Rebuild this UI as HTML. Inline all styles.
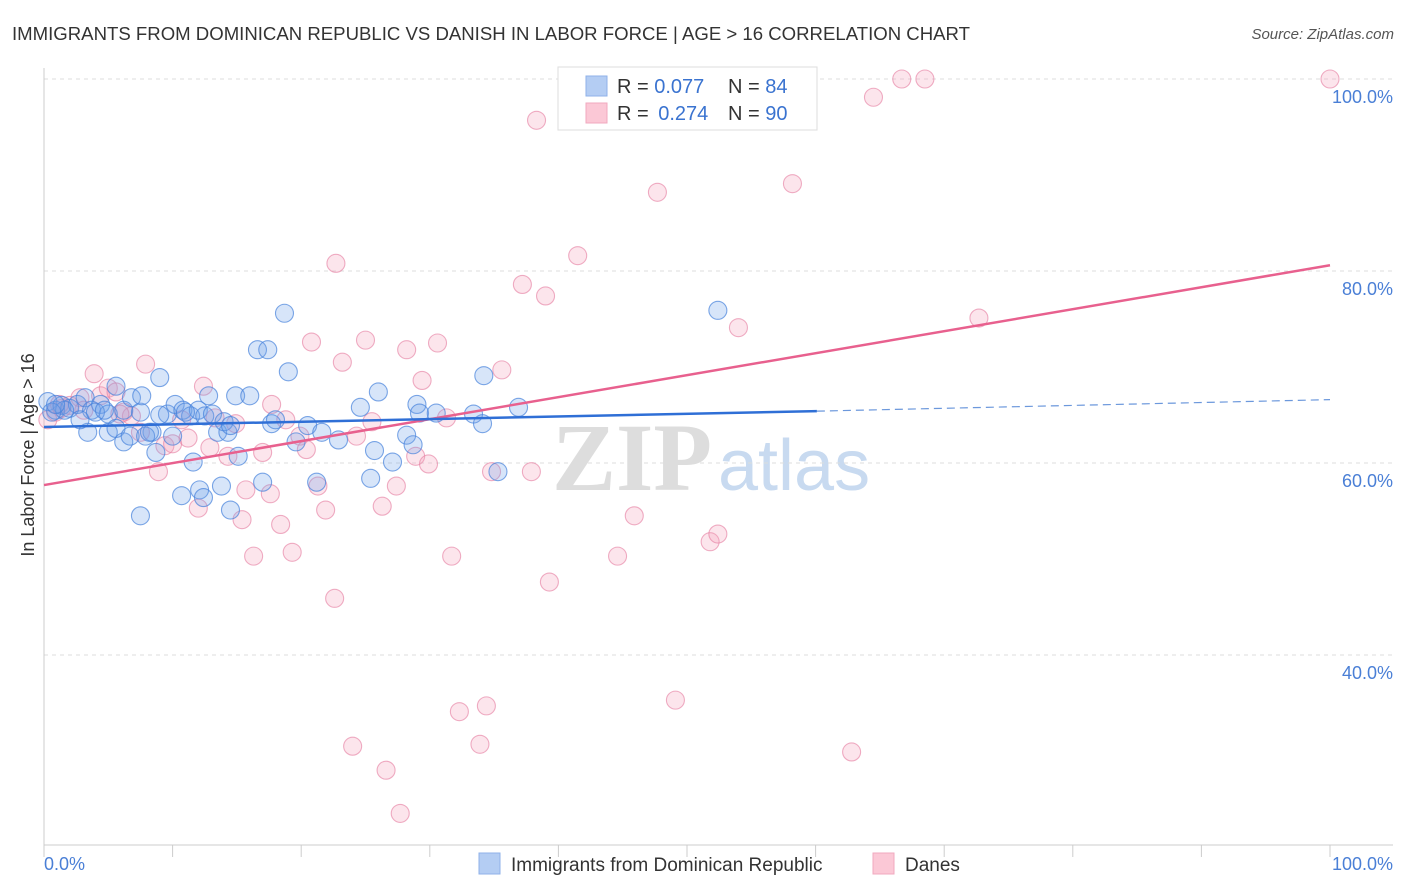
<!DOCTYPE html>
<html><head><meta charset="utf-8"><style>
body{margin:0;background:#fff;font-family:"Liberation Sans",sans-serif;}
svg{display:block}
</style></head><body>
<svg id="chart" width="1406" height="892" xmlns="http://www.w3.org/2000/svg">
<text x="12" y="40" font-size="18" fill="#333" textLength="958" lengthAdjust="spacingAndGlyphs">IMMIGRANTS FROM DOMINICAN REPUBLIC VS DANISH IN LABOR FORCE | AGE &gt; 16 CORRELATION CHART</text>
<text x="1394" y="39" font-size="15" fill="#555" text-anchor="end" font-style="italic">Source: ZipAtlas.com</text>
<g>
<text x="552" y="490" font-size="96" font-family="Liberation Serif,serif" fill="#ddd" font-weight="bold">ZIP</text>
<text x="718" y="490" font-size="72" fill="#c8daf0">atlas</text>
</g>
<g id="grid"></g>
<g id="axes"></g>
<g id="marks"></g>
<g id="lines"></g>
<text transform="translate(34,455) rotate(-90)" font-size="18" fill="#333" text-anchor="middle">In Labor Force | Age &gt; 16</text>
<text x="44" y="870" font-size="18" fill="#4a7fd6">0.0%</text>
<text x="1393" y="870" font-size="18" fill="#4a7fd6" text-anchor="end">100.0%</text>
<g>
<rect x="558" y="67" width="259" height="63" fill="#fff" stroke="#ddd"/>
<rect x="586" y="76" width="21" height="20" fill="#b4cdf3" stroke="#8fb1e8"/>
<rect x="586" y="103" width="21" height="20" fill="#fbc8d6" stroke="#f0a9bf"/>
<text x="617" y="93" font-size="20" fill="#333">R = <tspan fill="#3a73d0">0.077</tspan></text>
<text x="728" y="93" font-size="20" fill="#333">N = <tspan fill="#3a73d0">84</tspan></text>
<text x="617" y="120" font-size="20" fill="#333">R = <tspan fill="#3a73d0" dx="4">0.274</tspan></text>
<text x="728" y="120" font-size="20" fill="#333">N = <tspan fill="#3a73d0">90</tspan></text>
</g>
<g>
<rect x="479" y="853" width="21" height="21" fill="#b4cdf3" stroke="#8fb1e8"/>
<text x="511" y="871" font-size="19" fill="#333">Immigrants from Dominican Republic</text>
<rect x="873" y="853" width="21" height="21" fill="#fbc8d6" stroke="#f0a9bf"/>
<text x="905" y="871" font-size="19" fill="#333">Danes</text>
</g>
</svg>
<script>
const yTicks=[40,60,80,100];
const yTickLabels=["40.0%","60.0%","80.0%","100.0%"];
const xTicks=[0,10,20,30,40,50,60,70,80,90,100];
const blueX=[0.3,0.9,1.4,2.0,2.6,3.2,3.7,4.4,5.0,5.6,6.2,6.8,7.5,8.4,9.0,9.6,10.2,10.8,11.4,12.0,12.5,13.1,13.5,14.3,14.9,16.0,16.6,17.4,18.7,19.0,17.7,19.6,20.5,21.6,22.9,24.6,26.0,25.7,27.1,28.2,28.7,29.0,29.2,30.5,33.4,34.1,34.2,35.3,36.9,52.4,3.4,5.0,5.6,6.2,6.7,7.5,7.9,8.7,10.0,10.7,11.6,12.1,12.4,13.8,14.5,15.1,17.0,21.2,25.4,8.2,2.8,1.6,0.6,4.0,4.7,7.6,9.0,11.0,12.8,14.0,14.5,18.0,0.9];
const blueY=[66.4,65.5,66.0,65.7,66.1,66.8,65.5,66.1,65.1,68.0,65.5,66.8,65.3,63.2,68.9,65.1,66.1,65.5,64.9,65.5,64.9,65.1,63.2,63.2,67.0,67.0,71.8,71.8,75.6,69.5,64.1,62.2,63.9,63.2,62.4,65.8,67.4,61.3,60.1,62.9,61.9,66.1,65.2,65.2,65.1,64.1,69.1,59.1,65.8,75.9,63.2,63.2,63.6,62.2,62.8,54.5,62.8,61.1,62.8,56.6,60.1,57.2,56.4,57.6,55.1,60.7,58.0,58.0,58.4,63.2,64.5,65.5,65.3,65.3,65.5,67.0,65.0,65.3,67.0,64.3,63.9,64.5,66.1];
const pinkX=[0.3,0.9,1.4,2.0,2.8,3.9,4.4,5.0,5.6,6.2,6.8,7.5,7.9,8.9,9.4,10.7,11.2,12.0,12.4,12.9,13.3,14.3,14.9,15.4,15.7,16.3,17.0,17.6,17.7,18.4,18.8,19.3,19.9,20.4,20.8,21.3,21.9,22.6,22.7,23.2,24.0,24.3,25.0,25.5,26.3,26.6,27.4,27.7,28.2,28.9,29.4,29.9,30.6,31.3,31.7,32.3,33.9,34.4,34.8,35.6,37.2,37.9,38.3,39.0,39.3,41.5,44.6,45.9,47.7,49.1,51.8,52.4,54.0,58.2,62.8,64.5,66.7,68.5,72.7,100,3.1,5.9,10.0,1.2];
const pinkY=[64.5,65.3,65.7,66.0,66.8,69.3,67.0,67.8,67.4,65.3,64.9,63.2,70.3,59.1,61.8,64.5,62.6,55.3,68.0,61.6,64.7,60.7,64.1,54.1,57.2,50.3,61.1,56.8,66.1,53.6,64.5,50.7,62.8,61.4,72.6,57.6,55.1,45.9,80.8,70.5,30.5,62.8,72.8,64.3,55.5,28.0,57.6,23.5,71.8,60.7,68.6,59.9,72.5,64.7,50.3,34.1,30.7,34.7,59.1,69.7,78.6,59.1,95.7,77.4,47.6,81.6,50.3,54.5,88.2,35.3,51.8,52.6,74.1,89.1,29.9,98.1,100,100,75.1,100,65.5,65.1,62.0,66.1];
const blueLine=[63.75,65.4,66.6];
const blueSolidEnd=60.1;
const pinkLine=[57.7,80.6];

const NS="http://www.w3.org/2000/svg";
const X=v=>44+v*12.86;
const Y=v=>1039-v*9.6;
function mk(tag,attrs,parent){const e=document.createElementNS(NS,tag);for(const k in attrs)e.setAttribute(k,attrs[k]);parent.appendChild(e);return e;}
const grid=document.getElementById('grid'),axes=document.getElementById('axes'),marks=document.getElementById('marks'),lines=document.getElementById('lines');
yTicks.forEach((t,i)=>{
 const l=mk('line',{x1:44,x2:1393,y1:Y(t),y2:Y(t),stroke:'#ddd','stroke-dasharray':'4,4'},grid);
 
 
 const tx=mk('text',{x:1393,y:Y(t)+24,'font-size':18,fill:'#4a7fd6','text-anchor':'end'},grid);
 tx.textContent=yTickLabels[i];
 
 
});
let a=mk('line',{x1:44,x2:44,y1:68,y2:845,stroke:'#ccc'},axes);


a=mk('line',{x1:44,x2:1393,y1:845,y2:845,stroke:'#ccc'},axes);


xTicks.forEach(t=>{
 const l=mk('line',{x1:X(t),x2:X(t),y1:845,y2:857,stroke:'#ccc'},axes);
 
 
});
pinkX.forEach((v,i)=>{
 const c=mk('circle',{cx:X(v),cy:Y(pinkY[i]),r:9,fill:'rgba(244,160,188,0.28)',stroke:'rgba(230,130,165,0.65)','stroke-width':1.1},marks);
 
 
});
blueX.forEach((v,i)=>{
 const c=mk('circle',{cx:X(v),cy:Y(blueY[i]),r:9,fill:'rgba(110,160,235,0.28)',stroke:'rgba(70,130,220,0.7)','stroke-width':1.1},marks);
 
 
});
let ln=mk('line',{x1:X(0),y1:Y(pinkLine[0]),x2:X(100),y2:Y(pinkLine[1]),stroke:'#e8608e','stroke-width':2.5},lines);


ln=mk('line',{x1:X(0),y1:Y(blueLine[0]),x2:X(blueSolidEnd),y2:Y(blueLine[1]),stroke:'#2f6fd6','stroke-width':2.5},lines);


ln=mk('line',{x1:X(blueSolidEnd),y1:Y(blueLine[1]),x2:X(100),y2:Y(blueLine[2]),stroke:'#6c98dc','stroke-width':1.2,'stroke-dasharray':'8,5'},lines);


</script>
</body></html>
